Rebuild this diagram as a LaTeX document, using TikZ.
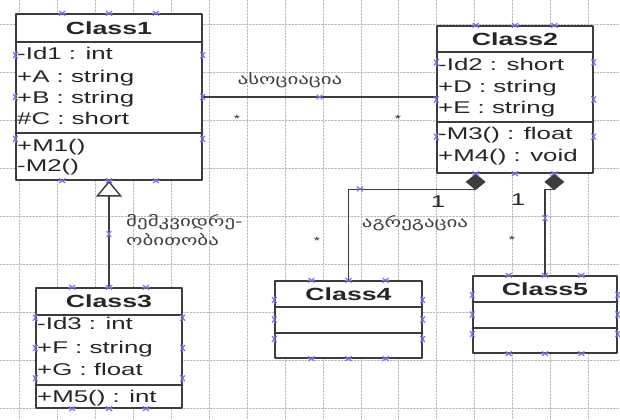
\documentclass[tikz,border=0pt]{standalone}
\usepackage{fontspec}
\setmainfont{Liberation Sans}[FakeStretch=1.52]
\newfontfamily\geofont{DejaVu Sans}[FakeStretch=1.45]
\usetikzlibrary{arrows.meta,calc,fit}
\definecolor{handlecol}{HTML}{6F6FE0}
\definecolor{linecol}{HTML}{3C3C3C}

\begin{document}
\begin{tikzpicture}[x=0.03cm,y=-0.03cm,line cap=round,line join=round,
  font=\fontsize{14.5}{17}\selectfont,
  gridline/.style={black!28,line width=0.45pt,dash pattern=on 1.6pt off 1.2pt},
  classbox/.style={draw=linecol,fill=white,line width=1.2pt,inner sep=0pt},
  classname/.style={font=\fontsize{15}{17}\selectfont\bfseries,text=black!85},
  member/.style={anchor=base west,inner sep=0pt,text=black!85},
  divider/.style={draw=linecol,line width=1.2pt},
  conn/.style={draw=linecol,line width=1.2pt},
  geolabel/.style={font=\geofont\fontsize{12.3}{14}\selectfont,text=black!75,inner sep=0pt},
  mult/.style={inner sep=0pt,text=black!85},
  handle/.pic={\draw[handlecol,line width=0.8pt,line cap=butt]
    (-2.6pt,-2pt) -- (2.6pt,2pt) (-2.6pt,2pt) -- (2.6pt,-2pt) (-3.4pt,0) -- (3.4pt,0);}]
  \useasboundingbox (0,0) rectangle (620,419);
  % background grid
  \foreach \i in {0,...,16}
    \draw[gridline] ({19.7+37.9*\i},0) -- ++(0,419);
  \foreach \j in {0,...,8}
    \draw[gridline] (0,{24+48*\j}) -- ++(620,0);

  % classes
  \node[classbox,fit={(16,14) (202,180)}] (c1) {};
  \node[classbox,fit={(437,26) (593,173)}] (c2) {};
  \node[classbox,fit={(36,288) (182,408)}] (c3) {};
  \node[classbox,fit={(275,281) (422,358)}] (c4) {};
  \node[classbox,fit={(473,276) (617,353)}] (c5) {};

  \draw[divider] (c1.west |- 0,42) -- (c1.east |- 0,42);
  \draw[divider] (c1.west |- 0,133) -- (c1.east |- 0,133);
  \draw[divider] (c2.west |- 0,52) -- (c2.east |- 0,52);
  \draw[divider] (c2.west |- 0,122) -- (c2.east |- 0,122);
  \draw[divider] (c3.west |- 0,315) -- (c3.east |- 0,315);
  \draw[divider] (c3.west |- 0,385) -- (c3.east |- 0,385);
  \draw[divider] (c4.west |- 0,307) -- (c4.east |- 0,307);
  \draw[divider] (c4.west |- 0,333) -- (c4.east |- 0,333);
  \draw[divider] (c5.west |- 0,302) -- (c5.east |- 0,302);
  \draw[divider] (c5.west |- 0,328) -- (c5.east |- 0,328);

  \node[classname] (t1) at (c1.north |- 0,28) {Class1};
  \node[classname] (t2) at (c2.north |- 0,39) {Class2};
  \node[classname] (t3) at (c3.north |- 0,301.5) {Class3};
  \node[classname] (t4) at (c4.north |- 0,294) {Class4};
  \node[classname] (t5) at (c5.north |- 0,289) {Class5};

  \node[member] at (17,59) {-Id1 : int};
  \node[member] at (17,82) {+A : string};
  \node[member] at (17,103) {+B : string};
  \node[member] at (17,124) {\#C : short};
  \node[member] at (17,151) {+M1()};
  \node[member] at (17,171) {-M2()};

  \node[member] at (438,70) {-Id2 : short};
  \node[member] at (438,92) {+D : string};
  \node[member] at (438,113) {+E : string};
  \node[member] at (438,139) {-M3() : float};
  \node[member] at (438,161) {+M4() : void};

  \node[member] at (37,329) {-Id3 : int};
  \node[member] at (37,353) {+F : string};
  \node[member] at (37,375) {+G : float};
  \node[member] at (37,402) {+M5() : int};

  % association
  \draw[conn] (c1.east) -- (c2.west |- c1.east);
  \node[geolabel] (lassoc) at (290,80) {ასოციაცია};
  \node[mult,font=\fontsize{9}{9}\selectfont] (m1) at (237,119) {*};
  \node[mult,font=\fontsize{9}{9}\selectfont] (m2) at (398,119) {*};

  % inheritance
  \draw[conn,-{Triangle[open,length=13.5pt,width=22pt,fill=white]}] (c3.north) -- (c1.south);
  \node[geolabel,anchor=west] (linh1) at (126,222) {მემკვიდრე-};
  \node[geolabel,anchor=west] (linh2) at (126,240) {ობითობა};

  % aggregation
  \draw[conn,{Diamond[length=14pt,width=17pt]}-] ($(c2.south west)!0.25!(c2.south east)$) -- ++(0,16) -| (c4.north);
  \draw[conn,{Diamond[length=14pt,width=17pt]}-] ($(c2.south west)!0.75!(c2.south east)$) -- ++(0,16) -| (c5.north);
  \node[geolabel] (laggr) at (415,223) {აგრეგაცია};
  \node[mult] (m3) at (438,202) {1};
  \node[mult] (m4) at (518,200) {1};
  \node[mult,font=\fontsize{9}{9}\selectfont] (m5) at (317,241) {*};
  \node[mult,font=\fontsize{9}{9}\selectfont] (m6) at (512,240) {*};

  % selection handles
  \foreach \c in {c1,c2,c3,c4,c5}
    \foreach \f in {0.25,0.5,0.75} {
      \pic at ($(\c.north west)!\f!(\c.north east)$) {handle};
      \pic at ($(\c.south west)!\f!(\c.south east)$) {handle};
      \pic[rotate=90] at ($(\c.north west)!\f!(\c.south west)$) {handle};
      \pic[rotate=90] at ($(\c.north east)!\f!(\c.south east)$) {handle};
    }
  \pic at ($(c1.east)!0.5!(c2.west |- c1.east)$) {handle};
  \pic[rotate=90] at ($(c3.north)!0.5!(c1.south)$) {handle};
  \pic at (360,189) {handle};
  \pic[rotate=90] at (545,218) {handle};
\end{tikzpicture}
\end{document}
